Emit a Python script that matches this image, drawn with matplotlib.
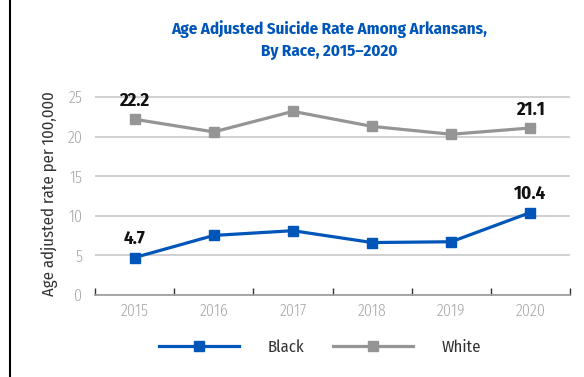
import matplotlib
matplotlib.use("Agg")
import matplotlib.pyplot as plt
from matplotlib.lines import Line2D

years = ["2015", "2016", "2017", "2018", "2019", "2020"]
black = [4.7, 7.5, 8.1, 6.6, 6.7, 10.4]
white = [22.2, 20.6, 23.2, 21.3, 20.3, 21.1]
yticks = [0, 5, 10, 15, 20, 25]
label_idx = [0, 5]
title = "Age Adjusted Suicide Rate Among Arkansans,\nBy Race, 2015\u20132020"
ylabel = "Age adjusted rate per 100,000"
series_names = ["Black", "White"]

plt.rcParams["font.family"] = ["Fira Sans Condensed", "DejaVu Sans"]

BLUE = "#0056b8"
GRAY = "#959595"

fig = plt.figure(figsize=(5.84, 3.77), dpi=100)
ax = fig.add_axes([0.1627, 0.2183, 0.8133, 0.5345])

x = list(range(len(years)))
ax.plot(x, black, color=BLUE, lw=2.3, marker="s", ms=7, zorder=3)
ax.plot(x, white, color=GRAY, lw=2.3, marker="s", ms=7, zorder=3)

for vals in (black, white):
    for i in label_idx:
        ax.annotate(f"{vals[i]:.1f}", (i, vals[i]), xytext=(0, 7), textcoords="offset points",
                    ha="center", va="bottom", fontsize=13.5, fontweight="bold", color="#111111")

ax.set_xlim(-0.5, 5.5)
ax.set_ylim(0, 25.5)
ax.set_yticks(yticks)
ax.set_yticklabels([str(v) for v in yticks])
ax.set_xticks(x)
ax.set_xticklabels(years)
ax.set_xticks([i - 0.5 for i in range(len(years) + 1)], minor=True)
ax.tick_params(axis="x", which="major", length=0, pad=6, labelsize=11.5, labelcolor="#a6a6a6")
ax.tick_params(axis="x", which="minor", direction="in", length=5, width=1, color="#333333")
ax.tick_params(axis="y", length=0, pad=9, labelsize=11.5, labelcolor="#a6a6a6")
for lab in ax.get_xticklabels() + ax.get_yticklabels():
    lab.set_fontweight(300)

for s in ["top", "right", "left"]:
    ax.spines[s].set_visible(False)
ax.spines["bottom"].set_color("#999999")
ax.spines["bottom"].set_linewidth(1.2)
ax.yaxis.grid(True, color="#c8c8c8", lw=1.2)
ax.set_axisbelow(True)

ax.set_ylabel(ylabel, fontsize=12, color="#333333", labelpad=7)

fig.text(0.5633, 0.893, title, ha="center", va="center", fontsize=12.2,
         fontweight="bold", color=BLUE, linespacing=1.45)

handles = [Line2D([], [], color=BLUE, lw=2.3, marker="s", ms=7),
           Line2D([], [], color=GRAY, lw=2.3, marker="s", ms=7)]
fig.legend(handles, series_names, loc="center", bbox_to_anchor=(0.548, 0.08),
           ncol=2, frameon=False, fontsize=12, handlelength=4.8, handletextpad=1.7,
           columnspacing=1.7, labelcolor="#333333")

fig.add_artist(Line2D([10 / 584, 10 / 584], [0, 1], color="black", lw=1.5,
                      transform=fig.transFigure))

fig.savefig("out.png", dpi=100)
